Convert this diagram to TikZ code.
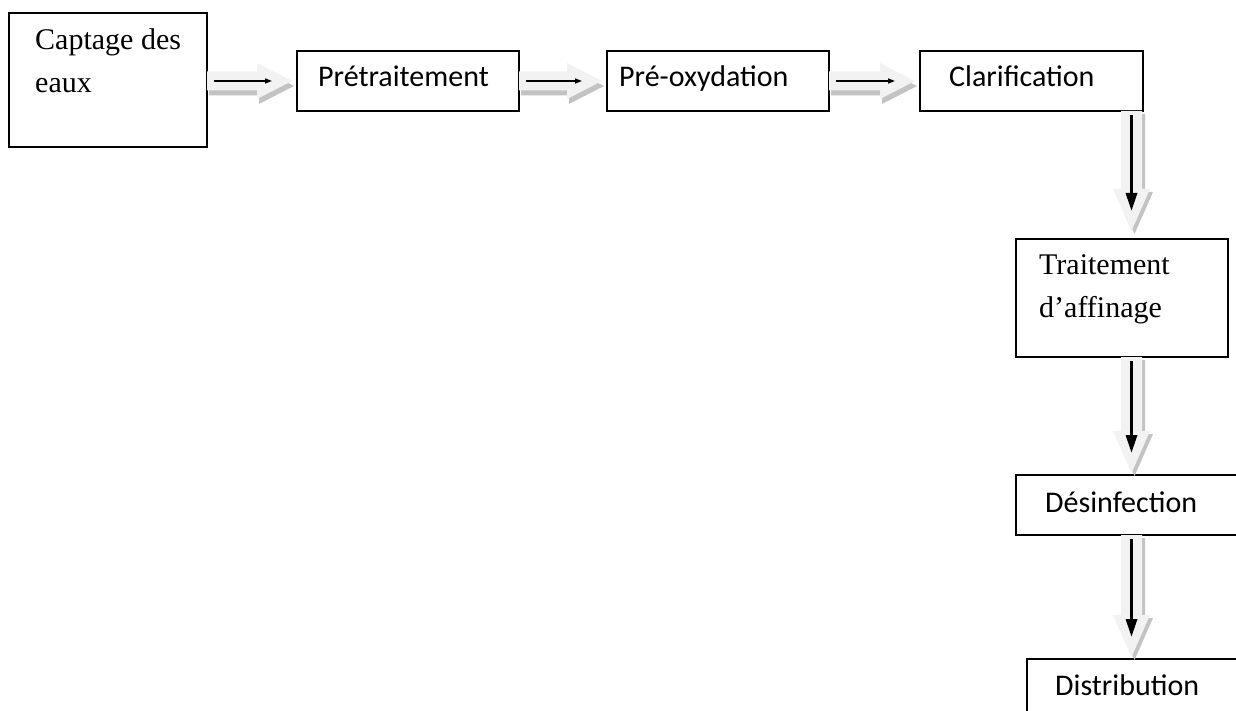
\documentclass[tikz,border=0pt]{standalone}
\usepackage{fontspec}
\setmainfont{Liberation Serif}
\newfontfamily\calib{Carlito}
\usetikzlibrary{calc,arrows.meta}
\definecolor{arrlight}{RGB}{242,242,242}
\definecolor{arrshadow}{RGB}{195,195,195}
\tikzset{
 box/.style={draw=black, line width=1.8pt, anchor=north west, inner sep=0pt, outer sep=0pt},
 sertext/.style={anchor=base west, inner sep=0pt, font=\fontsize{30}{43}\selectfont},
 santext/.style={anchor=base west, inner sep=0pt, font=\calib\fontsize{30}{36}\selectfont},
 thinarr/.style={line width=1.3pt, -{Triangle[width=5pt,length=7pt]}},
 thickarr/.style={line width=3.2pt, -{Triangle[width=11pt,length=18pt]}},
}
% horizontal block arrow: #1 start coordinate, #2 tip coordinate
\newcommand{\harr}[2]{%
  \foreach \dx/\dy/\col in {2/5/arrshadow, 0/0/arrlight} {
    \fill[\col] ($(#1)+(\dx,{\dy-9.5})$) -- ($(#2)+({\dx-35},{\dy-9.5})$) -- ($(#2)+({\dx-35},{\dy-18})$)
      -- ($(#2)+(\dx,\dy)$) -- ($(#2)+({\dx-35},{\dy+18})$) -- ($(#2)+({\dx-35},{\dy+9.5})$)
      -- ($(#1)+(\dx,{\dy+9.5})$) -- cycle;
  }
  \draw[thinarr] ($(#1)+(7,0)$) -- ($(#2)+(-20,0)$);
}
% vertical block arrow
\newcommand{\varr}[2]{%
  \foreach \dx/\dy/\col in {3/3/arrshadow, 0/0/arrlight} {
    \fill[\col] ($(#1)+({\dx-10.5},\dy)$) -- ($(#2)+({\dx-10.5},{\dy-42})$) -- ($(#2)+({\dx-18.5},{\dy-42})$)
      -- ($(#2)+(\dx,\dy)$) -- ($(#2)+({\dx+18.5},{\dy-42})$) -- ($(#2)+({\dx+10.5},{\dy-42})$)
      -- ($(#1)+({\dx+10.5},\dy)$) -- cycle;
  }
  \draw[thickarr] ($(#1)+(0,4)$) -- ($(#2)+(0,-20)$);
}
\begin{document}
\begin{tikzpicture}[x=1pt,y=-1pt]
\path[use as bounding box] (0,0) rectangle (1236,711);
\clip (0,0) rectangle (1236,711);

% boxes
\node[box, minimum width=198pt, minimum height=134pt] (cap) at (9,13) {};
\node[box, minimum width=222pt, minimum height=60pt] (pre) at (297,51) {};
\node[box, minimum width=222pt, minimum height=60pt] (oxy) at (607,51) {};
\node[box, minimum width=223pt, minimum height=60pt] (cla) at (920,51) {};
\node[box, minimum width=212pt, minimum height=118pt] (tra) at (1016,239) {};
\node[box, minimum width=240pt, minimum height=60pt] (des) at (1016,475) {};
\node[box, minimum width=240pt, minimum height=80pt] (dis) at (1027,659) {};

% texts
\node[sertext] (capA) at (35,50) {Captage des};
\node[sertext] (capB) at (35,93) {eaux};
\node[santext] (preT) at (318,87) {Prétraitement};
\node[santext] (oxyT) at (619,87) {Pré-oxydation};
\node[santext] (claT) at (949,87) {Clarification};
\node[sertext] (traA) at (1039,275) {Traitement};
\node[sertext] (traB) at (1039,317) {d’affinage};
\node[santext] (desT) at (1045,512) {Désinfection};
\node[santext] (disT) at (1055,695) {Distribution};

% horizontal connectors
\coordinate (h1s) at (cap.east |- pre.west);
\coordinate (h1t) at ($(pre.west)+(-5,0)$);
\harr{h1s}{h1t}
\coordinate (h2s) at (pre.east);
\coordinate (h2t) at ($(oxy.west)+(-5,0)$);
\harr{h2s}{h2t}
\coordinate (h3s) at (oxy.east);
\coordinate (h3t) at ($(cla.west)+(-5,0)$);
\harr{h3s}{h3t}

% vertical connectors
\coordinate (vx) at (1131.5,0);
\coordinate (v1s) at (vx |- cla.south);
\coordinate (v1t) at ($(vx |- tra.north)+(0,-8)$);
\varr{v1s}{v1t}
\coordinate (v2s) at (vx |- tra.south);
\coordinate (v2t) at ($(vx |- des.north)+(0,-2)$);
\varr{v2s}{v2t}
\coordinate (v3s) at (vx |- des.south);
\coordinate (v3t) at ($(vx |- dis.north)+(0,-2)$);
\varr{v3s}{v3t}
\end{tikzpicture}
\end{document}
